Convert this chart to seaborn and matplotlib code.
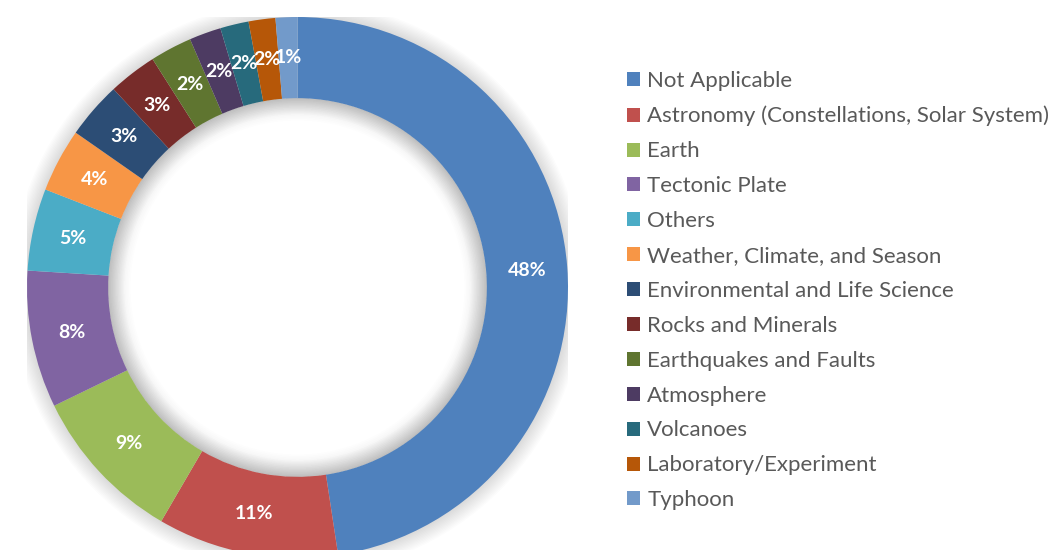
import matplotlib
matplotlib.use("Agg")
import matplotlib.pyplot as plt
import seaborn as sns
import numpy as np
from matplotlib.patches import Patch, Wedge

sns.set_theme(style="white")
plt.rcParams['font.family'] = ['Lato', 'DejaVu Sans']

categories = ["Not Applicable", "Astronomy (Constellations, Solar System)", "Earth",
              "Tectonic Plate", "Others", "Weather, Climate, and Season",
              "Environmental and Life Science", "Rocks and Minerals",
              "Earthquakes and Faults", "Atmosphere", "Volcanoes",
              "Laboratory/Experiment", "Typhoon"]
values = [47.6, 10.8, 9.4, 8.2, 4.9, 3.8, 3.4, 2.9, 2.5, 1.9, 1.7, 1.6, 1.3]
colors = ["#4F81BD", "#C0504D", "#9BBB59", "#8064A2", "#4BACC6", "#F79646",
          "#2C4D75", "#772C2A", "#5F7530", "#4D3B62", "#276A7C", "#B65708", "#729ACA"]

W, H = 1051, 550
fig = plt.figure(figsize=(W / 100, H / 100), dpi=100)
cx, cy, R = 297.5, 287.5, 270.5
ax = fig.add_axes([(cx - R) / W, (H - cy - R) / H, 2 * R / W, 2 * R / H])

ring = 0.30
inner = 1 - ring
# soft shadow outside and inside the ring
for i in range(12):
    ax.add_patch(Wedge((0, 0), 1.0 + 0.005 * (i + 1), 0, 360, width=ring + 0.010 * (i + 1),
                       facecolor="black", alpha=0.010, edgecolor="none", zorder=0))
for i in range(14):
    ax.add_patch(Wedge((0, 0), inner + 0.001, 0, 360, width=0.006 * (i + 1),
                       facecolor="black", alpha=0.008, edgecolor="none", zorder=0))

wedges, texts = ax.pie(values, colors=colors, startangle=90, counterclock=False,
                       radius=1.0, wedgeprops=dict(width=ring, edgecolor="none"),
                       normalize=True)
ax.set_xlim(-1, 1)
ax.set_ylim(-1, 1)
ax.set_aspect("equal")
ax.axis("off")

total = sum(values)
cum = 0.0
for v in values:
    mid = 90.0 - 360.0 * (cum + v / 2) / total
    cum += v
    rr = 0.85
    ax.text(rr * np.cos(np.radians(mid)), rr * np.sin(np.radians(mid)), f"{round(v)}%",
            ha="center", va="center", color="white", fontsize=14, fontweight="bold")

handles = [Patch(facecolor=c, edgecolor="none") for c in colors]
leg = fig.legend(handles, categories, loc="upper left", bbox_to_anchor=(627 / W, 1 - 71 / H),
                 frameon=False, fontsize=16, handlelength=0.59, handleheight=0.59,
                 handletextpad=0.32, labelspacing=0.67, borderpad=0, borderaxespad=0)
for t in leg.get_texts():
    t.set_color("#595959")

fig.savefig("out.png", dpi=100, facecolor="white")
